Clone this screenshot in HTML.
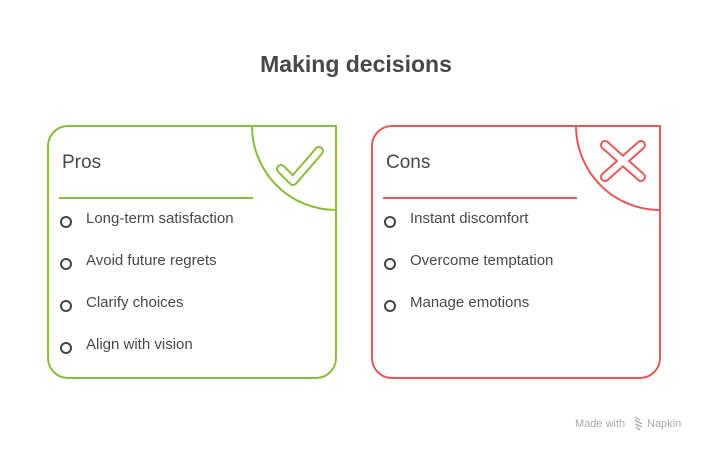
<!DOCTYPE html>
<html><head><meta charset="utf-8"><style>
html,body{margin:0;padding:0;background:#fff;}
svg{display:block;}
text{font-family:"Liberation Sans",Arial,sans-serif;}
</style></head><body>
<svg width="708" height="450" viewBox="0 0 708 450" xmlns="http://www.w3.org/2000/svg">
<rect width="708" height="450" fill="#fff"/>
<text x="356" y="72" text-anchor="middle" font-size="23" font-weight="bold" fill="#484848">Making decisions</text>

<!-- Pros box -->
<path d="M48,146 A20,20 0 0 1 68,126 L336,126 L336,358 A20,20 0 0 1 316,378 L68,378 A20,20 0 0 1 48,358 Z" fill="none" stroke="#8bbb3a" stroke-width="2"/>
<path d="M252,126 A84,84 0 0 0 336,210" fill="none" stroke="#8bbb3a" stroke-width="2"/>
<polyline points="281,169 293,181 319,151" fill="none" stroke="#8bbb3a" stroke-width="10" stroke-linecap="round" stroke-linejoin="round"/>
<polyline points="281,169 293,181 319,151" fill="none" stroke="#fff" stroke-width="6" stroke-linecap="round" stroke-linejoin="round"/>
<text x="62" y="168" font-size="19" fill="#484848">Pros</text>
<line x1="59" y1="198" x2="253" y2="198" stroke="#8bbb3a" stroke-width="2"/>
<g fill="none" stroke="#444" stroke-width="2">
<circle cx="66" cy="222" r="5"/><circle cx="66" cy="264" r="5"/><circle cx="66" cy="306" r="5"/><circle cx="66" cy="348" r="5"/>
</g>
<g font-size="15" fill="#484848">
<text x="86" y="223">Long-term satisfaction</text>
<text x="86" y="265">Avoid future regrets</text>
<text x="86" y="307">Clarify choices</text>
<text x="86" y="349">Align with vision</text>
</g>

<!-- Cons box -->
<path d="M372,146 A20,20 0 0 1 392,126 L660,126 L660,358 A20,20 0 0 1 640,378 L392,378 A20,20 0 0 1 372,358 Z" fill="none" stroke="#e35a56" stroke-width="2"/>
<path d="M576,126 A84,84 0 0 0 660,210" fill="none" stroke="#e35a56" stroke-width="2"/>
<g stroke-linecap="round" fill="none">
<path d="M605,145 L641,177 M641,145 L605,177" stroke="#e35a56" stroke-width="10"/>
<path d="M605,145 L641,177 M641,145 L605,177" stroke="#fff" stroke-width="6"/>
</g>
<text x="386" y="168" font-size="19" fill="#484848">Cons</text>
<line x1="383" y1="198" x2="577" y2="198" stroke="#e35a56" stroke-width="2"/>
<g fill="none" stroke="#444" stroke-width="2">
<circle cx="390" cy="222" r="5"/><circle cx="390" cy="264" r="5"/><circle cx="390" cy="306" r="5"/>
</g>
<g font-size="15" fill="#484848">
<text x="410" y="223">Instant discomfort</text>
<text x="410" y="265">Overcome temptation</text>
<text x="410" y="307">Manage emotions</text>
</g>

<!-- footer -->
<text x="575" y="427" font-size="11" fill="#aaa">Made with</text>
<g stroke="#aaa" stroke-width="1.3" fill="none">
<path d="M635,417 L640,420 M635,420 L642,424 M635,424 L642,427 M636,427 L640,430"/>
</g>
<text x="647" y="427" font-size="11" fill="#aaa">Napkin</text>
</svg>
</body></html>
